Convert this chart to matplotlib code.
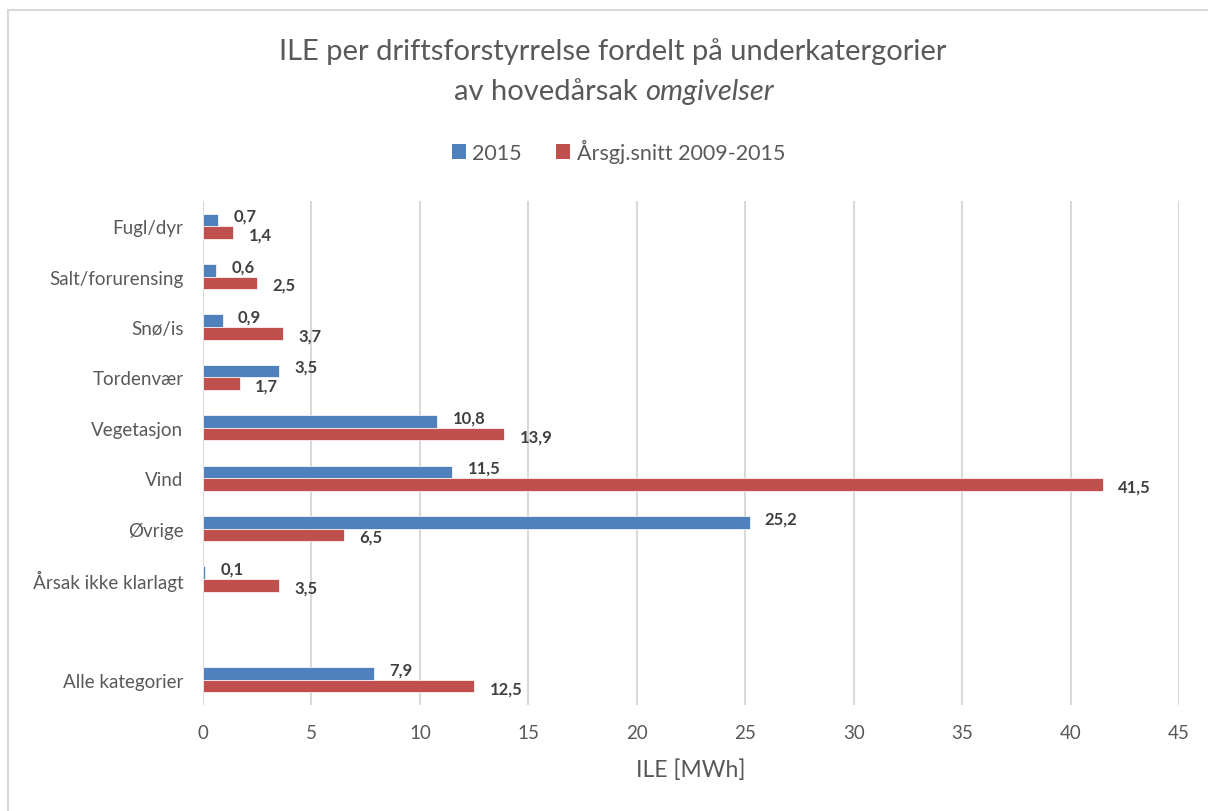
import matplotlib
matplotlib.use('Agg')
import matplotlib.pyplot as plt
import numpy as np
from matplotlib.patches import Rectangle

#------------------------------------------------
# data
#------------------------------------------------
kategorier = ['Fugl/dyr', 'Salt/forurensing', 'Snø/is', 'Tordenvær', 'Vegetasjon',
              'Vind', 'Øvrige', 'Årsak ikke klarlagt', '', 'Alle kategorier']
ile_2015 = [0.7, 0.6, 0.9, 3.5, 10.8, 11.5, 25.2, 0.1, None, 7.9]
ile_snitt = [1.4, 2.5, 3.7, 1.7, 13.9, 41.5, 6.5, 3.5, None, 12.5]
serie_navn = ['2015', 'Årsgj.snitt 2009-2015']
xticks = [0, 5, 10, 15, 20, 25, 30, 35, 40, 45]

blaa = '#4F81BD'
rod = '#C0504D'
tekst_farge = '#595959'
grid_farge = '#D9D9D9'

plt.rcParams['font.family'] = ['Lato', 'DejaVu Sans']

fig = plt.figure(figsize=(12.08, 8.12), dpi=100)
ax = fig.add_axes([203/1208, 1 - 706/812, (1179 - 203)/1208, (706 - 202)/812])

# chart border
fig.patches.append(Rectangle((8/1208, -0.1), 1.2, 1 - 11/812 + 0.1, transform=fig.transFigure,
                             fill=False, edgecolor=grid_farge, linewidth=1.5, zorder=0))

pos = np.arange(len(kategorier))
h = 0.25
for i in range(len(kategorier)):
    if ile_2015[i] is None:
        continue
    ax.barh(pos[i] - h/2, ile_2015[i], height=h, color=blaa, edgecolor='white', linewidth=0.5, zorder=3)
    ax.barh(pos[i] + h/2, ile_snitt[i], height=h, color=rod, edgecolor='white', linewidth=0.5, zorder=3)
    ax.annotate('{:.1f}'.format(ile_2015[i]).replace('.', ','), (ile_2015[i], pos[i] - h/2),
                xytext=(11, 3), textcoords='offset points', ha='left', va='center',
                fontsize=12, fontweight='bold', color='#404040')
    ax.annotate('{:.1f}'.format(ile_snitt[i]).replace('.', ','), (ile_snitt[i], pos[i] + h/2),
                xytext=(11, -1.5), textcoords='offset points', ha='left', va='center',
                fontsize=12, fontweight='bold', color='#404040')

# legend handles
ax.barh([0], [0], color=blaa, label=serie_navn[0])
ax.barh([0], [0], color=rod, label=serie_navn[1])

ax.set_xlim(0, 45)
ax.set_ylim(len(kategorier) - 0.5, -0.5)
ax.set_xticks(xticks)
ax.set_yticks(pos)
ax.set_yticklabels(kategorier)
ax.tick_params(axis='both', length=0, labelsize=13.5, colors=tekst_farge)
ax.tick_params(axis='x', pad=14)
ax.tick_params(axis='y', pad=14)
ax.grid(axis='x', color=grid_farge, linewidth=1.5, zorder=0)
ax.set_axisbelow(True)
for s in ax.spines.values():
    s.set_visible(False)

ax.set_xlabel('ILE [MWh]', fontsize=16.5, color=tekst_farge, labelpad=12)

fig.legend(loc='center', bbox_to_anchor=(0.512, 1 - 152/812), ncol=2, frameon=False,
           fontsize=15.5, labelcolor=tekst_farge, handlelength=0.65, handleheight=0.65,
           handletextpad=0.3, columnspacing=1.6)

# title
fig.text(613/1208, 1 - 52/812, 'ILE per driftsforstyrrelse fordelt på underkatergorier',
         ha='center', va='center', fontsize=21, color=tekst_farge)
t1 = fig.text(0, 1 - 92/812, 'av hovedårsak ', ha='left', va='center', fontsize=21, color=tekst_farge)
t2 = fig.text(0, 1 - 92/812, 'omgivelser', ha='left', va='center', fontsize=21,
              style='italic', color=tekst_farge)
r = fig.canvas.get_renderer()
w1 = t1.get_window_extent(r).width / fig.bbox.width
w2 = t2.get_window_extent(r).width / fig.bbox.width
x0 = 614/1208 - (w1 + w2)/2
t1.set_x(x0)
t2.set_x(x0 + w1)

fig.savefig('out.png', dpi=100)
